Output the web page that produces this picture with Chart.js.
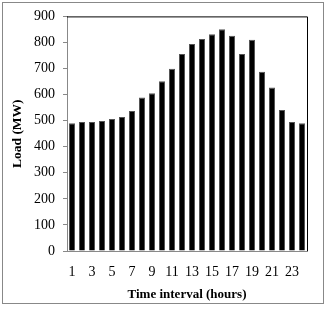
<!DOCTYPE html>
<html>
<head>
<meta charset="utf-8">
<script src="https://cdn.jsdelivr.net/npm/chart.js@4/dist/chart.umd.min.js"></script>
<style>
  html, body { margin: 0; padding: 0; background: #fff; }
  #wrap { width: 330px; height: 309px; position: relative; }
</style>
</head>
<body>
<div id="wrap"><canvas id="loadChart" width="330" height="309"></canvas></div>
<script>
const hours = ['1','2','3','4','5','6','7','8','9','10','11','12','13','14','15','16','17','18','19','20','21','22','23','24'];
const loadMW = [490, 495, 495, 499, 506, 514, 537, 589, 605, 651, 699, 756, 794, 813, 832, 851, 826, 756, 810, 688, 627, 541, 495, 490];
const yTicks = [0, 100, 200, 300, 400, 500, 600, 700, 800, 900];

// frame round the whole picture plus black top/right edges of plot area
const framePlugin = {
    id: 'frame',
    afterDraw(chart) {
        const c = chart.ctx;
        const a = chart.chartArea;
        c.save();
        c.strokeStyle = '#888';
        c.lineWidth = 1;
        c.strokeRect(2.5, 2.5, 321, 301);
        c.strokeStyle = '#000';
        c.beginPath();
        c.moveTo(a.left, a.top + 0.5);
        c.lineTo(a.right + 0.5, a.top + 0.5);
        c.lineTo(a.right + 0.5, a.bottom);
        c.stroke();
        c.restore();
    }
};

const ctx = document.getElementById('loadChart').getContext('2d');
new Chart(ctx, {
    type: 'bar',
    data: {
        labels: hours,
        datasets: [{
            label: 'Load',
            data: loadMW,
            backgroundColor: '#000',
            borderColor: '#555',
            borderWidth: 1,
            categoryPercentage: 1.0,
            barPercentage: 0.6
        }]
    },
    options: {
        responsive: false,
        animation: false,
        layout: { padding: { left: 3, right: 23, top: 14, bottom: 3 } },
        plugins: {
            legend: { display: false },
            tooltip: { enabled: false }
        },
        scales: {
            x: {
                grid: { display: false, drawTicks: false },
                border: { color: '#888', width: 1 },
                ticks: {
                    autoSkip: false,
                    maxRotation: 0,
                    padding: 13,
                    color: '#000',
                    font: { family: 'Liberation Serif', size: 14 },
                    callback: function (value, index) {
                        return index % 2 === 0 ? hours[index] : '';
                    }
                },
                title: {
                    display: true,
                    text: 'Time interval (hours)',
                    color: '#000',
                    font: { family: 'Liberation Serif', size: 13, weight: 'bold' },
                    padding: { top: 0, bottom: 4 }
                },
                afterFit: function (scale) { scale.height = 55; }
            },
            y: {
                min: 0,
                max: 900,
                afterBuildTicks: function (scale) {
                    scale.ticks = yTicks.map(v => ({ value: v }));
                },
                grid: { drawOnChartArea: false, drawTicks: true, tickLength: 4, color: '#888' },
                border: { color: '#888', width: 1 },
                ticks: {
                    padding: 8,
                    color: '#000',
                    font: { family: 'Liberation Serif', size: 14 }
                },
                title: {
                    display: true,
                    text: 'Load (MW)',
                    color: '#000',
                    font: { family: 'Liberation Serif', size: 13.5, weight: 'bold' },
                    padding: { top: 6, bottom: 0 }
                },
                afterFit: function (scale) { scale.width = 64; }
            }
        }
    },
    plugins: [framePlugin]
});
</script>
</body>
</html>
